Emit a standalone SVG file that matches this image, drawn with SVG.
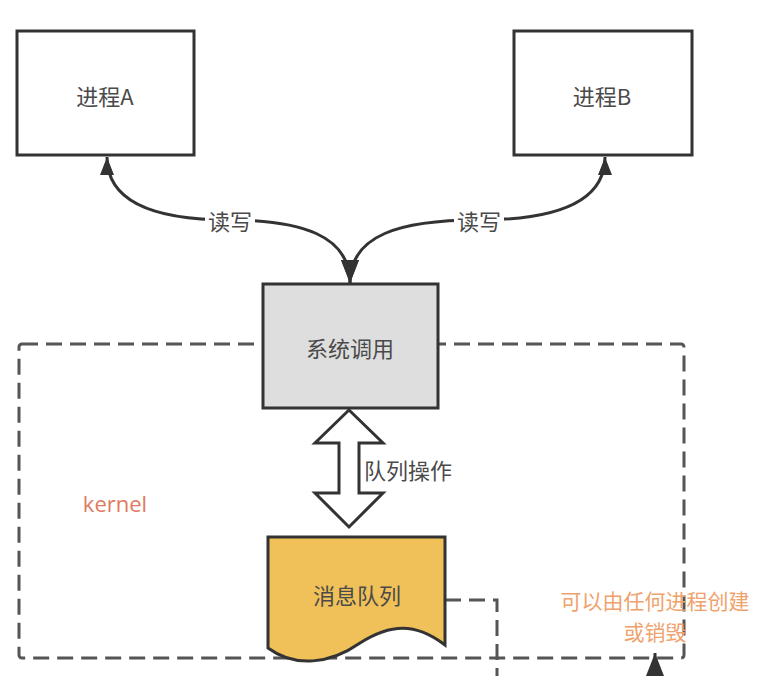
<svg xmlns="http://www.w3.org/2000/svg" width="768" height="676" viewBox="0 0 768 676">
<style>
.box{stroke:#333;stroke-width:3;}
.lbl{font-family:"Noto Sans CJK SC",sans-serif;font-size:22px;fill:#4a4a4a;text-anchor:middle;dominant-baseline:central;}
.dash{fill:none;stroke:#555;stroke-width:3;stroke-dasharray:16 8;}
.conn{fill:none;stroke:#333;stroke-width:3;}
.orange{font-family:"Noto Sans CJK SC",sans-serif;font-size:21px;fill:#f0a26c;text-anchor:middle;dominant-baseline:central;}
</style>
<defs>
<marker id="arrS" markerUnits="userSpaceOnUse" markerWidth="20" markerHeight="14" refX="18" refY="7" orient="auto-start-reverse" viewBox="0 0 20 14">
<path d="M0,0 L18,7 L0,14 Z" fill="#333"/>
</marker>
<marker id="arrL" markerUnits="userSpaceOnUse" markerWidth="24" markerHeight="18" refX="23" refY="9" orient="auto" viewBox="0 0 24 18">
<path d="M0,0 L23,9 L0,18 Z" fill="#333"/>
</marker>
</defs>
<rect width="768" height="676" fill="#fff"/>

<g id="kernel">
<rect class="dash" x="19" y="344" width="665" height="314" rx="3"/>
<text x="115" y="503" font-family="Open Sans, sans-serif" font-size="22" fill="#e07a5f" text-anchor="middle" dominant-baseline="central">kernel</text>
</g>

<g id="connectors">
<path class="conn" d="M107,157 C107,200 150,220 230,220 C300,220 350,235 350,283" marker-start="url(#arrS)" marker-end="url(#arrL)"/>
<path class="conn" d="M605,157 C605,200 560,220 478,220 C400,220 350,235 350,283" marker-start="url(#arrS)" marker-end="url(#arrL)"/>
<rect x="205" y="207" width="50" height="26" fill="#fff"/>
<text class="lbl" x="230" y="220">读写</text>
<rect x="454" y="207" width="50" height="26" fill="#fff"/>
<text class="lbl" x="479" y="220">读写</text>
<polygon points="349,410 383,443 359,443 359,493 383,493 349,527 315,493 339,493 339,443 315,443" fill="#fff" stroke="#333" stroke-width="3" stroke-linejoin="miter"/>
<text class="lbl" x="408" y="469">队列操作</text>
<path class="dash" d="M445,600 H497 V676"/>
<path class="conn" d="M655,710 V653" marker-end="url(#arrL)"/>
</g>

<g id="procA">
<rect class="box" x="17" y="31" width="177" height="124" fill="#fff"/>
<text class="lbl" x="105" y="95">进程A</text>
</g>

<g id="procB">
<rect class="box" x="514" y="31" width="178" height="124" fill="#fff"/>
<text class="lbl" x="602" y="95">进程B</text>
</g>

<g id="syscall">
<rect class="box" x="263" y="284" width="175" height="124" fill="#dedede"/>
<text class="lbl" x="350" y="347">系统调用</text>
</g>

<g id="msgqueue">
<path class="box" d="M268,537 H445 V645 C415,622 390,624 360,643 C330,664 295,668 268,648 Z" fill="#efc158"/>
<text class="lbl" x="357" y="594">消息队列</text>
</g>

<g id="note">
<text class="orange" x="655" y="600">可以由任何进程创建</text>
<text class="orange" x="655" y="631">或销毁</text>
</g>
</svg>
